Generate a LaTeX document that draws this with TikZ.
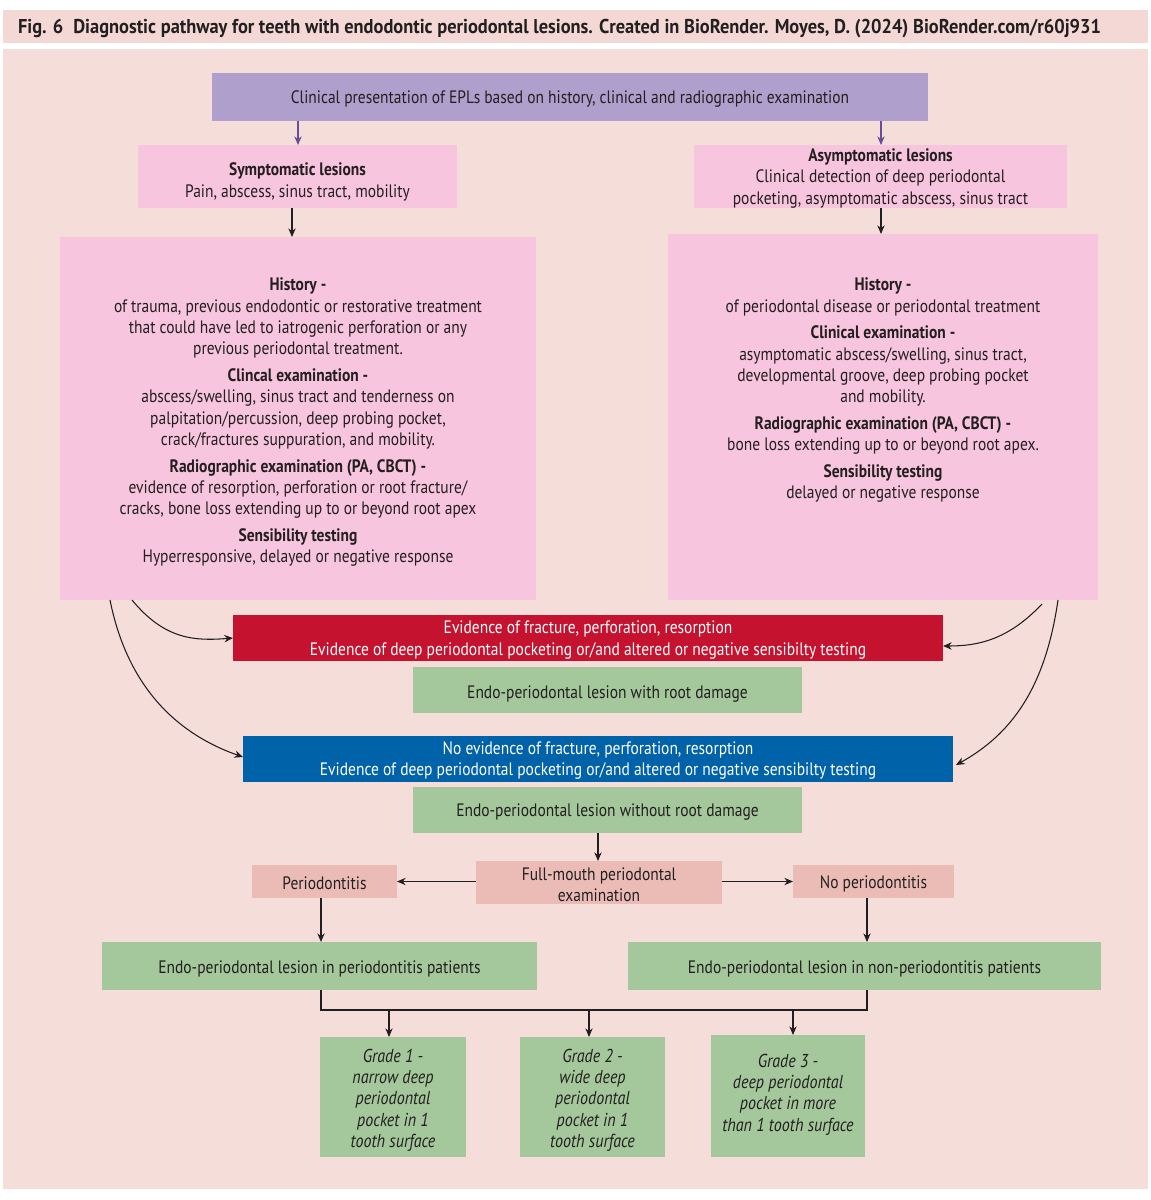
\documentclass[tikz,border=0pt]{standalone}
\usepackage{fontspec}
\setmainfont{PT Sans}[FakeStretch=0.86,ItalicFeatures={FakeStretch=0.86}]
\newfontfamily\titlefont{PT Sans}[FakeStretch=0.92]
\usetikzlibrary{arrows.meta,calc}
\definecolor{hdr}{HTML}{F3D8D6}
\definecolor{panel}{HTML}{F5DDDA}
\definecolor{pinkb}{HTML}{F7C5DD}
\definecolor{purpb}{HTML}{AF9FCC}
\definecolor{purpa}{HTML}{6B4C9A}
\definecolor{redb}{HTML}{C4122F}
\definecolor{blueb}{HTML}{0062A9}
\definecolor{greenb}{HTML}{A4C79B}
\definecolor{salmb}{HTML}{EABCB5}
\definecolor{ink}{HTML}{231F20}
\newcommand\hd[1]{{\bfseries #1}}
\begin{document}
\begin{tikzpicture}[x=0.75pt,y=-0.75pt,
  every node/.style={inner sep=0pt,outer sep=0pt,text=ink,font=\fontsize{13.5}{16}\selectfont},
  sz/.style 2 args={minimum width=#1*0.75pt,minimum height=#2*0.75pt},
  txt/.style={align=center},
  wtxt/.style={align=center,text=white},
  itxt/.style={align=center,font=\itshape\fontsize{14}{16}\selectfont},
  pinkbox/.style={fill=pinkb},
  greenbox/.style={fill=greenb},
  salmbox/.style={fill=salmb},
  conn/.style={draw=ink,line width=0.8pt,-{Stealth[length=6.5pt,width=5.5pt]}},
  pconn/.style={draw=purpa,line width=0.8pt,-{Stealth[length=6.5pt,width=5.5pt]}},
  line/.style={draw=ink,line width=0.8pt}]
\useasboundingbox (0,0) rectangle (1151,1200);
\fill[white] (0,0) rectangle (1151,1200);
\fill[hdr] (3,10) rectangle (1148,43);
\fill[panel] (3,49) rectangle (1148,1189);

\node[anchor=west,font=\titlefont\bfseries\fontsize{15}{16}\selectfont] (title) at (18,29)
  {Fig. 6\enspace Diagnostic pathway for teeth with endodontic periodontal lesions. Created in BioRender. Moyes, D. (2024) BioRender.com/r60j931};

% boxes
\node[fill=purpb,sz={716}{48}] (top) at (570,97) {};
\node[pinkbox,sz={319}{63}] (sym) at (297.5,176.5) {};
\node[pinkbox,sz={373}{63}] (asym) at (880.5,176.5) {};
\node[pinkbox,sz={476}{363}] (lb) at (298,418.5) {};
\node[pinkbox,sz={430}{366}] (rb) at (883,417) {};
\node[fill=redb,sz={710}{46}] (red) at (588,638) {};
\node[greenbox,sz={389}{46}] (g1) at (607.5,690) {};
\node[fill=blueb,sz={710}{46}] (blue) at (598,759) {};
\node[greenbox,sz={389}{46}] (g2) at (607.5,810) {};
\node[salmbox,sz={246}{43}] (fm) at (599,882.5) {};
\node[salmbox,sz={145}{33}] (per) at (324.5,881.5) {};
\node[salmbox,sz={161}{33}] (nper) at (873.5,881.5) {};
\node[greenbox,sz={435}{48}] (gl) at (319.5,966) {};
\node[greenbox,sz={473}{48}] (gr) at (864.5,966) {};
\node[greenbox,sz={146}{120}] (gr1) at (393,1097) {};
\node[greenbox,sz={145}{120}] (gr2) at (592.5,1097) {};
\node[greenbox,sz={154}{122}] (gr3) at (788,1096) {};

% texts
\node[txt] (topt) at ($(top)+(0,2)$) {Clinical presentation of EPLs based on history, clinical and radiographic examination};
\node[txt] (symt) at ($(sym)+(0,5.5)$) {\hd{Symptomatic lesions}\\Pain, abscess, sinus tract, mobility};
\node[txt] (asymt) at ($(asym)+(0,2)$) {\hd{Asymptomatic lesions}\\Clinical detection of deep periodontal\\pocketing, asymptomatic abscess, sinus tract};

\node[txt,anchor=north] (lbt) at (298,278) {%
\hd{History -}\\
of trauma, previous endodontic or restorative treatment\\
that could have led to iatrogenic perforation or any\\
previous periodontal treatment.\\[4pt]
\hd{Clincal examination -}\\
abscess/swelling, sinus tract and tenderness on\\
palpitation/percussion, deep probing pocket,\\
crack/fractures suppuration, and mobility.\\[4pt]
\hd{Radiographic examination (PA, CBCT) -}\\
evidence of resorption, perforation or root fracture/\\
cracks, bone loss extending up to or beyond root apex\\[4pt]
\hd{Sensibility testing}\\
Hyperresponsive, delayed or negative response};

\node[txt,anchor=north] (rbt) at (883,278) {%
\hd{History -}\\
of periodontal disease or periodontal treatment\\[4pt]
\hd{Clinical examination -}\\
asymptomatic abscess/swelling, sinus tract,\\
developmental groove, deep probing pocket\\
and mobility.\\[4pt]
\hd{Radiographic examination (PA, CBCT) -}\\
bone loss extending up to or beyond root apex.\\[4pt]
\hd{Sensibility testing}\\
delayed or negative response};

\node[wtxt] (redt) at ($(red)+(0,2)$) {Evidence of fracture, perforation, resorption\\Evidence of deep periodontal pocketing or/and altered or negative sensibilty testing};
\node[txt] (g1t) at ($(g1)+(0,4)$) {Endo-periodontal lesion with root damage};
\node[wtxt] (bluet) at ($(blue)+(0,1.5)$) {No evidence of fracture, perforation, resorption\\Evidence of deep periodontal pocketing or/and altered or negative sensibilty testing};
\node[txt] (g2t) at ($(g2)+(0,2.5)$) {Endo-periodontal lesion without root damage};
\node[txt] (fmt) at ($(fm)+(0,2)$) {Full-mouth periodontal\\examination};
\node[txt] (pert) at ($(per)+(0,2)$) {Periodontitis};
\node[txt] (npert) at ($(nper)+(0,2)$) {No periodontitis};
\node[txt] (glt) at ($(gl)+(0,3)$) {Endo-periodontal lesion in periodontitis patients};
\node[txt] (grt) at ($(gr)+(0,3)$) {Endo-periodontal lesion in non-periodontitis patients};
\node[itxt] (gr1t) at ($(gr1)+(0,3)$) {Grade 1 -\\narrow deep\\periodontal\\pocket in 1\\tooth surface};
\node[itxt] (gr2t) at ($(gr2)+(0,3)$) {Grade 2 -\\wide deep\\periodontal\\pocket in 1\\tooth surface};
\node[itxt,anchor=north] (gr3t) at (788,1054) {Grade 3 -\\deep periodontal\\pocket in more\\than 1 tooth surface};
\coordinate (split) at (321,1010);

% connectors
\draw[pconn] (top.south -| 298,0) -- (sym.north -| 298,0);
\draw[pconn] (top.south -| 881,0) -- (asym.north -| 881,0);
\draw[conn] (sym.south -| 292,0) -- (lb.north -| 292,0);
\draw[conn] (asym.south -| 881,0) -- (rb.north -| 881,0);

\draw[conn] ($(lb.south west)+(72,0)$) .. controls (165,640) and (195,641) .. (red.west);
\draw[conn] ($(lb.south west)+(50,0)$) .. controls (128,690) and (180,735) .. ($(blue.west)+(0,-2)$);
\draw[conn] ($(rb.south east)+(-56,4)$) .. controls (1008,640) and (978,646) .. ($(red.east)+(0,8)$);
\draw[conn] ($(rb.south east)+(-40,0)$) .. controls (1045,690) and (1010,735) .. ($(blue.east)+(3,6)$);

\draw[conn] (g2.south -| 598,0) -- (fm.north -| 598,0);
\draw[conn] (fm.west |- per.east) -- (per.east);
\draw[conn] (fm.east |- nper.west) -- (nper.west);
\draw[conn] (per.south -| 321,0) -- (gl.north -| 321,0);
\draw[conn] (nper.south -| 867,0) -- (gr.north -| 867,0);

\draw[line] (gl.south -| split) -- (split) -- (split -| 867,0) -- (gr.south -| 867,0);
\draw[conn] (split -| 389,0) -- (gr1.north -| 389,0);
\draw[conn] (split -| 589,0) -- (gr2.north -| 589,0);
\draw[conn] (split -| 793,0) -- (gr3.north -| 793,0);
\end{tikzpicture}
\end{document}
